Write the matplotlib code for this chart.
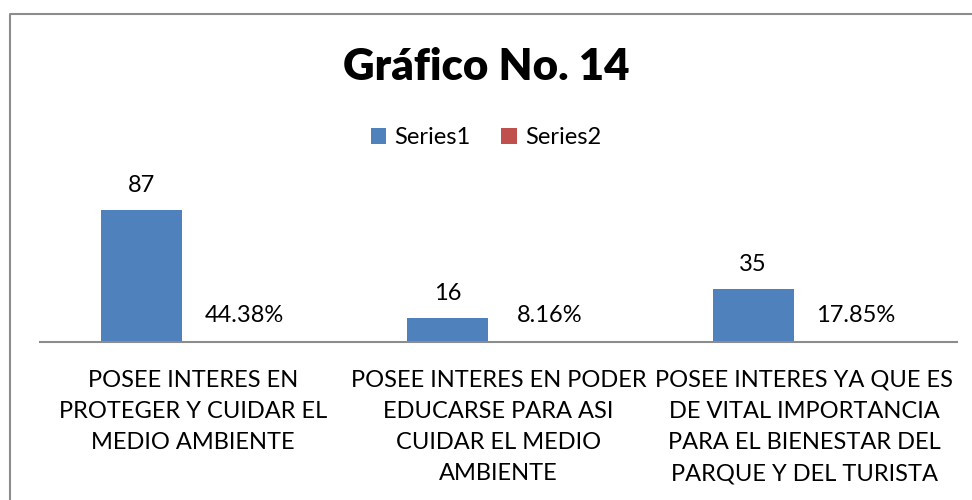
import numpy as np
import matplotlib.pyplot as plt
from matplotlib.lines import Line2D

# datos
categorias = [
    "POSEE INTERES EN\nPROTEGER Y CUIDAR EL\nMEDIO AMBIENTE",
    "POSEE INTERES EN PODER\nEDUCARSE PARA ASI\nCUIDAR EL MEDIO\nAMBIENTE",
    "POSEE INTERES YA QUE ES\nDE VITAL IMPORTANCIA\nPARA EL BIENESTAR DEL\nPARQUE Y DEL TURISTA",
]
serie1 = [87, 16, 35]
serie2 = [0.4438, 0.0816, 0.1785]
etiquetas2 = ["44.38%", "8.16%", "17.85%"]

AZUL = "#4F81BD"
ROJO = "#C0504D"

plt.rcParams["font.family"] = ["Lato", "DejaVu Sans"]

fig = plt.figure(figsize=(9.72, 5.0), dpi=100)
W, H = 972, 500

# marco del grafico (solo se ve arriba y a la izquierda)
fig.add_artist(Line2D([10 / W, 10 / W, 1.0], [0.0, 1 - 14 / H, 1 - 14 / H],
                      transform=fig.transFigure, color="#8c8c8c", lw=1.5))

ax = fig.add_axes([40 / W, 1 - 342 / H, 917 / W, 152 / H])
x = np.arange(len(categorias))
ancho = 0.265
b1 = ax.bar(x - 0.167, serie1, ancho, color=AZUL, label="Series1")
b2 = ax.bar(x + 0.167, serie2, ancho, color=ROJO, label="Series2")

for r, v in zip(b1, serie1):
    ax.annotate(str(v), (r.get_x() + r.get_width() / 2, r.get_height()),
                xytext=(0, 24), textcoords="offset pixels",
                ha="center", va="center", fontsize=17)
for r, t in zip(b2, etiquetas2):
    ax.annotate(t, (r.get_x() + r.get_width() / 2, r.get_height()),
                xytext=(0, 26), textcoords="offset pixels",
                ha="center", va="center", fontsize=17)

ax.set_xlim(-0.5, 2.5)
ax.set_ylim(0, 100)
ax.set_xticks(x)
ax.set_xticklabels(categorias, fontsize=17, linespacing=1.6, va="top")
ax.tick_params(axis="x", length=0, pad=20)
ax.set_yticks([])
for s in ["top", "right", "left"]:
    ax.spines[s].set_visible(False)
ax.spines["bottom"].set_color("#8c8c8c")
ax.spines["bottom"].set_linewidth(1.5)

fig.text(0.5, 1 - 67 / H, "Gráfico No. 14", ha="center", va="center",
         fontsize=31.5, fontweight="heavy")
fig.legend(handles=[b1, b2], loc="center", bbox_to_anchor=(0.5, 1 - 138 / H),
           ncol=2, frameon=False, fontsize=17, handlelength=0.65,
           handleheight=0.65, handletextpad=0.35, columnspacing=1.3)

fig.savefig("out.png", dpi=100)
